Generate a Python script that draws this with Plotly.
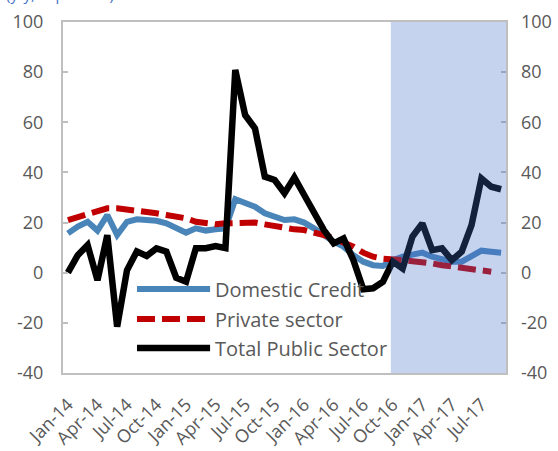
import plotly.graph_objects as go

months = ["Jan-14", "Feb-14", "Mar-14", "Apr-14", "May-14", "Jun-14", "Jul-14", "Aug-14", "Sep-14",
          "Oct-14", "Nov-14", "Dec-14", "Jan-15", "Feb-15", "Mar-15", "Apr-15", "May-15", "Jun-15",
          "Jul-15", "Aug-15", "Sep-15", "Oct-15", "Nov-15", "Dec-15", "Jan-16", "Feb-16", "Mar-16",
          "Apr-16", "May-16", "Jun-16", "Jul-16", "Aug-16", "Sep-16", "Oct-16", "Nov-16", "Dec-16",
          "Jan-17", "Feb-17", "Mar-17", "Apr-17", "May-17", "Jun-17", "Jul-17", "Aug-17", "Sep-17"]

tick_labels = ["Jan-14", "Apr-14", "Jul-14", "Oct-14", "Jan-15", "Apr-15", "Jul-15", "Oct-15",
               "Jan-16", "Apr-16", "Jul-16", "Oct-16", "Jan-17", "Apr-17", "Jul-17"]

y_ticks = [-40, -20, 0, 20, 40, 60, 80, 100]
y_tick_text = ["-40", "-20", "0", "20", "40", "60", "80", "100"]

domestic_credit = [15.7, 18.4, 20.3, 16.8, 23.0, 15.0, 20.3, 21.3, 21.0, 20.7, 19.7, 17.7, 16.0,
                   17.7, 16.8, 17.3, 17.7, 29.3, 27.7, 26.3, 23.7, 22.3, 21.0, 21.3, 20.0, 17.7,
                   15.0, 12.4, 10.4, 7.0, 4.4, 3.0, 2.7, 5.0, 6.4, 7.3, 8.0, 6.4, 5.7, 4.4, 4.4,
                   6.4, 8.8, 8.4, 8.0]

private_sector = [21.0, 22.3, 23.7, 24.7, 25.7, 25.7, 25.3, 24.7, 24.3, 23.7, 23.0, 22.3, 21.7,
                  20.3, 19.7, 19.3, 19.7, 20.0, 20.0, 20.0, 19.3, 18.5, 17.7, 17.3, 17.0, 16.3,
                  15.0, 13.7, 12.0, 10.4, 8.0, 6.4, 5.6, 5.0, 5.0, 4.6, 4.4, 3.7, 3.0, 2.4, 2.2,
                  1.7, 0.8, 0.4, None]

total_public = [0.0, 7.0, 11.0, -3.0, 15.0, -21.5, 1.0, 8.5, 6.7, 9.7, 8.4, -2.0, -3.6, 9.8, 9.8,
                10.6, 9.8, 80.9, 62.9, 57.6, 38.3, 37.0, 31.7, 38.0, 31.0, 24.3, 17.0, 11.7, 13.7,
                5.0, -6.6, -6.2, -3.6, 4.4, 1.7, 14.4, 19.7, 9.0, 9.7, 5.0, 8.4, 19.0, 37.6, 34.3,
                33.3]

series_names = ["Domestic Credit", "Private sector", "Total Public Sector"]

BLUE = "#4A85B9"
RED = "#C00000"
BLACK = "#000000"
GREY = "#BFBFBF"
TXT = "#595959"
FONT = "Open Sans"

fig = go.Figure()
fig.add_trace(go.Scatter(x=months, y=domestic_credit, name=series_names[0], mode="lines",
                         line=dict(color=BLUE, width=6)))
fig.add_trace(go.Scatter(x=months, y=private_sector, name=series_names[1], mode="lines",
                         line=dict(color=RED, width=6, dash="18px,7px")))
fig.add_trace(go.Scatter(x=months, y=total_public, name=series_names[2], mode="lines",
                         line=dict(color=BLACK, width=6.5), yaxis="y2"))

n = len(months)
fig.update_layout(
    width=558, height=451,
    margin=dict(l=63, r=52, t=22, b=78),
    plot_bgcolor="white", paper_bgcolor="white",
    showlegend=False,
    font=dict(family=FONT, size=18, color=TXT),
    xaxis=dict(type="category", categoryorder="array", categoryarray=months,
               tickmode="array", tickvals=tick_labels, ticktext=tick_labels,
               tickangle=-45, ticks="", showline=True, linecolor=GREY, linewidth=2,
               mirror=True, range=[-0.5, n - 0.5], showgrid=False, zeroline=False,
               tickfont=dict(size=18), ticklabelstandoff=12, automargin=False),
    xaxis2=dict(overlaying="x", anchor="free", position=40 / 140, range=[-0.5, n - 0.5],
                tickmode="array", tickvals=[k - 0.5 for k in range(0, n + 1, 3)],
                ticks="outside", ticklen=6, tickwidth=2, tickcolor=GREY,
                showticklabels=False, showline=True, linecolor=GREY, linewidth=2,
                showgrid=False, zeroline=False, automargin=False),
    yaxis=dict(range=[-40, 100], tickmode="array", tickvals=y_ticks, ticktext=y_tick_text,
               ticks="inside", ticklen=5, tickwidth=2,
               tickcolor=GREY, showline=True, linecolor=GREY, linewidth=2, mirror=True,
               showgrid=False, zeroline=False, ticklabelstandoff=14, automargin=False),
    yaxis2=dict(range=[-40, 100], tickmode="array", tickvals=y_ticks, ticktext=y_tick_text,
                overlaying="y", side="right", ticks="inside",
                ticklen=5, tickwidth=2, tickcolor=GREY, showline=False, showgrid=False,
                zeroline=False, ticklabelstandoff=14, automargin=False),
)

# projection shading
fig.add_shape(type="rect", xref="x", yref="paper", x0=32.8, x1=n - 0.5, y0=0, y1=1,
              fillcolor="rgba(67,110,203,0.30)", line=dict(width=0), layer="above")

# partially visible unit caption at the very top (cut off by the page edge, as in the source)
fig.add_annotation(text="(y/y, in percent)", xref="paper", yref="paper", x=-0.133, y=1.080,
                   xanchor="left", yanchor="middle", showarrow=False,
                   font=dict(family=FONT, size=15, color="#4472C4"))

# legend drawn inside plot
leg_y = [0.2393, 0.1538, 0.0712]
leg_styles = [dict(color=BLUE, width=6), dict(color=RED, width=6, dash="18px,7px"),
              dict(color=BLACK, width=6.5)]
for name, yy, st in zip(series_names, leg_y, leg_styles):
    fig.add_shape(type="line", xref="paper", yref="paper", x0=0.167, x1=0.332, y0=yy, y1=yy,
                  line=st)
    fig.add_annotation(text=name, xref="paper", yref="paper", x=0.339, y=yy, xanchor="left",
                       yanchor="middle", showarrow=False,
                       font=dict(family=FONT, size=20, color=TXT))

fig.write_html("out.html", config={"displayModeBar": False},
               post_script="document.body.style.margin='0';document.body.style.overflow='hidden';")
